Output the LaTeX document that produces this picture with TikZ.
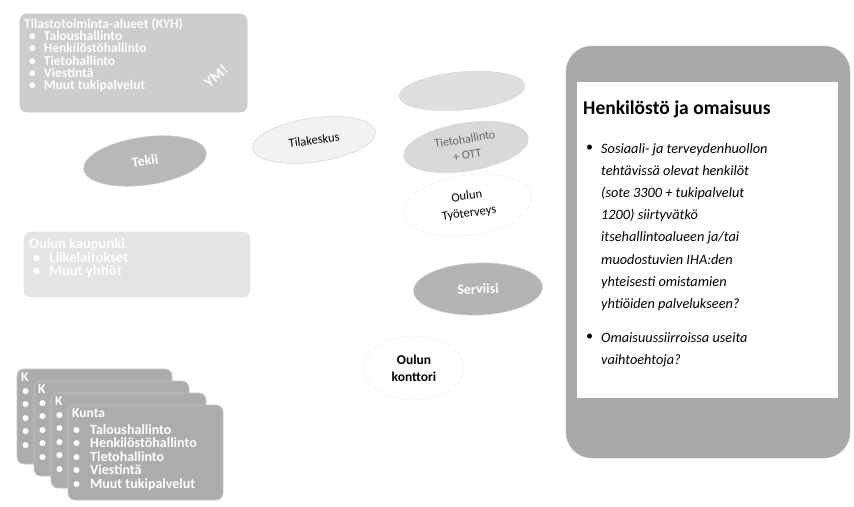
\documentclass[tikz,border=0pt]{standalone}
\usepackage{fontspec}
\setmainfont{Carlito}
\usetikzlibrary{shapes.geometric}

\definecolor{boxgray}{RGB}{172,172,172}
\definecolor{palegray}{RGB}{205,205,205}
\definecolor{fadegray}{RGB}{228,228,228}
\definecolor{framegray}{RGB}{168,168,168}

\tikzset{
  unitbox/.style={draw=gray!45, fill=#1, rounded corners=7pt, line width=0.6pt},
  blob/.style={ellipse, draw=gray!35, fill=#1, line width=0.5pt},
  boxtext/.style={anchor=north west, inner sep=0pt, align=left, text=white,
    font=\bfseries\fontsize{13.5}{12.2}\selectfont},
}

\begin{document}
\begin{tikzpicture}[x=1pt,y=-1pt]
  \useasboundingbox[fill=white] (0,0) rectangle (854,506);

  % kyh box
  \draw[unitbox=palegray] (20,14) rectangle (247,112);
  \node[boxtext] (kyhtitle) at (24,18) {Tilastotoiminta-alueet (KYH)};
  \node[boxtext] (kyhlist) at (29,31)
    {\textbullet\hspace{8pt}Taloushallinto\\
     \textbullet\hspace{8pt}Henkilöstöhallinto\\
     \textbullet\hspace{8pt}Tietohallinto\\
     \textbullet\hspace{8pt}Viestintä\\
     \textbullet\hspace{8pt}Muut tukipalvelut};
  \node[text=white, inner sep=0pt, font=\bfseries\fontsize{15}{15}\selectfont, rotate=40] (ymi) at (216,76) {YM!};

  % oulun kaupunki
  \draw[unitbox=fadegray, draw=gray!20] (24,232) rectangle (250,297);
  \node[boxtext, font=\bfseries\fontsize{14.5}{12.8}\selectfont] (okititle) at (29,238) {Oulun kaupunki};
  \node[boxtext, font=\bfseries\fontsize{14.5}{12.8}\selectfont] (okilist) at (33,252)
    {\textbullet\hspace{9pt}Liikelaitokset\\
     \textbullet\hspace{9pt}Muut yhtiöt};

  % kunta stack, back cards only show their edge
  \foreach \i in {0,1,2} {
    \draw[unitbox=boxgray] (17+17*\i,369+12*\i) rectangle (172+17*\i,464+12*\i);
    \node[boxtext] (kk\i) at (21+17*\i,373+12*\i) {K};
    \node[boxtext, font=\bfseries\fontsize{14}{13.6}\selectfont] (kb\i) at (22+17*\i,388+12*\i)
      {\textbullet\\ \textbullet\\ \textbullet\\ \textbullet\\ \textbullet};
  }
  \draw[unitbox=boxgray] (68,405) rectangle (223,500);
  \node[boxtext] (kunta) at (72,409) {Kunta};
  \node[boxtext, font=\bfseries\fontsize{14}{13.6}\selectfont] (kuntalist) at (73,424)
    {\textbullet\hspace{10pt}Taloushallinto\\
     \textbullet\hspace{10pt}Henkilöstöhallinto\\
     \textbullet\hspace{10pt}Tietohallinto\\
     \textbullet\hspace{10pt}Viestintä\\
     \textbullet\hspace{10pt}Muut tukipalvelut};

  % yhtiot
  \node[blob=boxgray!85, minimum width=124, minimum height=48, rotate=8,
        text=white, font=\bfseries\fontsize{14}{14}\selectfont] (tekli) at (145,161) {Tekli};
  \node[blob=gray!10, minimum width=124, minimum height=44, rotate=8,
        font=\fontsize{12.5}{12.5}\selectfont] (tilakeskus) at (314,140) {Tilakeskus};
  \node[blob=gray!25, minimum width=126, minimum height=38, rotate=5] (tyhja) at (462,91) {};
  \node[blob=gray!30, minimum width=126, minimum height=48, rotate=9, align=center,
        text=gray!80!black, font=\fontsize{12}{16}\selectfont] (tieto) at (466,147) {Tietohallinto\\+ OTT};
  \node[blob=white, draw=gray!12, minimum width=128, minimum height=60, rotate=8, align=center,
        font=\fontsize{12.5}{17}\selectfont] (tyoterveys) at (468,205) {Oulun\\Työterveys};
  \node[blob=boxgray!90, minimum width=129, minimum height=52, rotate=2,
        text=white, font=\bfseries\fontsize{14}{14}\selectfont] (serviisi) at (478,289) {Serviisi};
  \node[blob=white, draw=gray!12, minimum width=100, minimum height=64, align=center,
        font=\bfseries\fontsize{13.5}{17}\selectfont] (konttori) at (414,368) {Oulun\\konttori};

  % henkilosto ja omaisuus
  \draw[fill=framegray, draw=gray!60, rounded corners=26pt] (566,46) rectangle (850,458);
  \draw[fill=white, draw=none] (577,82) rectangle (838,398);
  \node[anchor=west, inner sep=0pt, font=\bfseries\fontsize{19.5}{20}\selectfont] (otsikko) at (583,109)
    {Henkilöstö ja omaisuus};
  \node[anchor=north west, inner sep=0pt, font=\fontsize{14}{14}\selectfont] (piste1) at (586,145) {\textbullet};
  \node[anchor=north west, inner sep=0pt, align=left,
        font=\itshape\fontsize{14.3}{22.2}\selectfont] (kohta1) at (601,143)
    {Sosiaali- ja terveydenhuollon\\
     tehtävissä olevat henkilöt\\
     (sote 3300 + tukipalvelut\\
     1200) siirtyvätkö\\
     itsehallintoalueen ja/tai\\
     muodostuvien IHA:den\\
     yhteisesti omistamien\\
     yhtiöiden palvelukseen?};
  \node[anchor=north west, inner sep=0pt, font=\fontsize{14}{14}\selectfont] (piste2) at (586,334) {\textbullet};
  \node[anchor=north west, inner sep=0pt, align=left,
        font=\itshape\fontsize{14.3}{22.2}\selectfont] (kohta2) at (601,332)
    {Omaisuussiirroissa useita\\
     vaihtoehtoja?};
\end{tikzpicture}
\end{document}
